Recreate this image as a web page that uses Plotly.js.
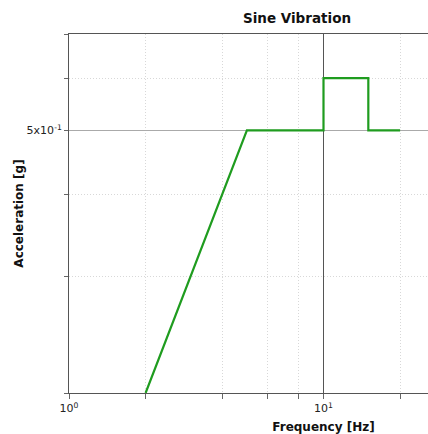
<!DOCTYPE html>
<html><head><meta charset="utf-8">
<script src="https://cdn.plot.ly/plotly-3.0.1.min.js"></script>
<style>html,body{margin:0;padding:0;overflow:hidden;background:#fff;width:428px;height:434px}</style>
</head><body><div id="chart" style="width:600px;height:434px"></div>
<script>
const freq = [2, 5, 10, 10, 15, 15, 20];
const accel = [0.2, 0.5, 0.5, 0.6, 0.6, 0.5, 0.5];
const xMajorTicks = [1, 10];
const xMajorLabels = ['10<sup>0</sup>', '10<sup>1</sup>'];
const xMinorTicks = [2, 4, 6, 8, 20, 40, 60, 80];
const yMajorTicks = [0.5];
const yMajorLabels = ['5x10<sup>-1</sup>'];
const yMinorTicks = [0.2, 0.3, 0.4, 0.6, 0.7];

const FONT = 'DejaVu Sans, Verdana, sans-serif';
const trace = {
  x: freq, y: accel, type: 'scatter', mode: 'lines',
  line: {color: '#1f9c1f', width: 2.2}, hoverinfo: 'skip'
};
const layout = {
  width: 600, height: 434,
  margin: {l: 69, r: 22, t: 34, b: 41},
  paper_bgcolor: '#fff', plot_bgcolor: '#fff',
  showlegend: false,
  font: {family: FONT, size: 11, color: '#222'},
  title: {text: '<b>Sine Vibration</b>', font: {family: FONT, size: 13.5, color: '#111'},
          xref: 'container', x: 0.495, xanchor: 'center', yref: 'container', y: 1 - 18/434, yanchor: 'middle'},
  xaxis: {
    type: 'log', range: [0, 2], autorange: false,
    tickmode: 'array', tickvals: xMajorTicks, ticktext: xMajorLabels,
    ticks: 'outside', ticklen: 5, tickcolor: '#666', tickwidth: 1,
    showgrid: true, gridcolor: '#555', gridwidth: 1,
    showline: true, linecolor: '#555', linewidth: 1, mirror: true,
    zeroline: false,
    minor: {tickmode: 'array', tickvals: xMinorTicks, ticks: 'outside', ticklen: 5, tickcolor: '#666',
            showgrid: true, gridcolor: '#d8d8d8', griddash: '1px,2px', gridwidth: 1},
    tickfont: {family: FONT, size: 11, color: '#222'},
    title: {text: '<b>Frequency [Hz]</b>', font: {family: FONT, size: 12, color: '#111'}, standoff: 10}
  },
  yaxis: {
    type: 'log', range: [Math.log10(0.2), Math.log10(0.7)], autorange: false,
    tickmode: 'array', tickvals: yMajorTicks, ticktext: yMajorLabels,
    ticks: 'outside', ticklen: 4, tickcolor: '#666', tickwidth: 1,
    showgrid: true, gridcolor: '#aaaaaa', gridwidth: 1.5,
    showline: true, linecolor: '#555', linewidth: 1, mirror: false,
    zeroline: false,
    minor: {tickmode: 'array', tickvals: yMinorTicks, ticks: 'outside', ticklen: 4, tickcolor: '#666',
            showgrid: true, gridcolor: '#d8d8d8', griddash: '1px,2px', gridwidth: 1},
    tickfont: {family: FONT, size: 11, color: '#222'},
    title: {text: '<b>Acceleration [g]</b>', font: {family: FONT, size: 12, color: '#111'}, standoff: 0}
  }
};
Plotly.newPlot('chart', [trace], layout, {displayModeBar: false, staticPlot: true});
</script></body></html>
